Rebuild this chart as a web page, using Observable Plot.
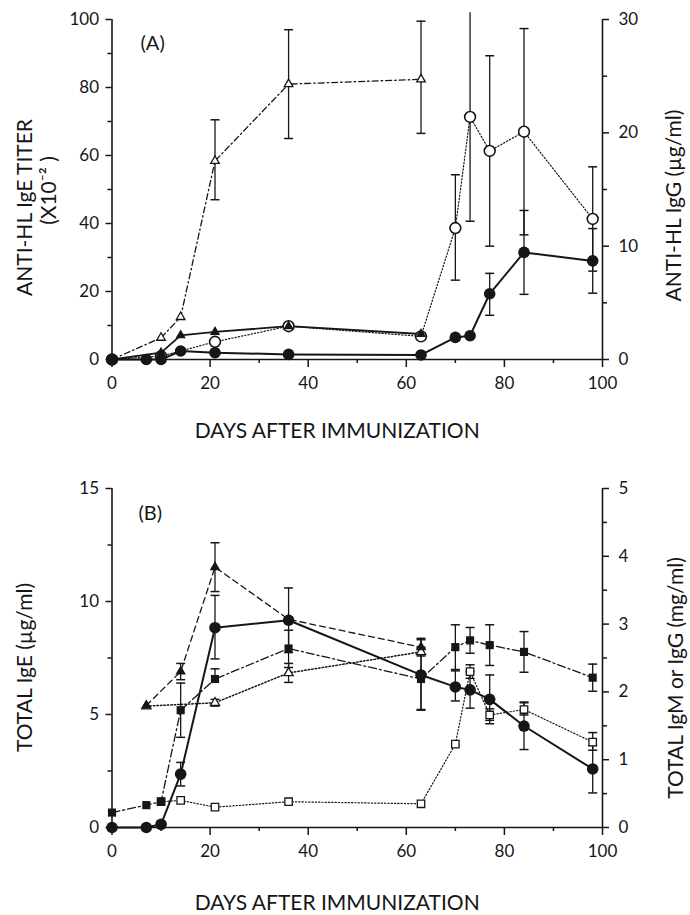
<!DOCTYPE html>
<html><head><meta charset="utf-8">
<script src="https://cdn.jsdelivr.net/npm/d3@7"></script>
<script src="https://cdn.jsdelivr.net/npm/@observablehq/plot@0.6"></script>
<style>
html,body{margin:0;padding:0;background:#fff;}
#chart{width:690px;}
#chart svg{display:block;}
</style></head><body><div id="chart"></div>
<script>
// ---------- Panel A data (days after immunization) ----------
// anti-HL IgE titer (x10^-2), left axis
const daysA_triOpen   = [0, 10, 14, 21, 36, 63];
const titerA_triOpen  = [0, 6.4, 12.5, 58.4, 81, 82.4];
const titerA_triOpenLo = [null, null, null, 47, 65, 66.5];
const titerA_triOpenHi = [null, null, null, 70.5, 97, 99.5];

const daysA_triFilled  = [0, 10, 14, 21, 36, 63];
const titerA_triFilled = [0, 2, 7.1, 8.1, 9.8, 7.5];

// anti-HL IgG (µg/ml), right axis
const daysA_circOpen  = [0, 10, 21, 36, 63, 70, 73, 77, 84, 98];
const iggA_circOpen   = [0, 0.3, 1.56, 2.94, 2.04, 11.6, 21.4, 18.4, 20.1, 12.4];
const iggA_circOpenLo = [null, null, null, null, null, 7.0, 12.2, 10.0, 11.0, 7.8];
const iggA_circOpenHi = [null, null, null, null, null, 16.3, 30.6, 26.8, 29.2, 17.0];

const daysA_circFilled  = [0, 7, 10, 14, 21, 36, 63, 70, 73, 77, 84, 98];
const iggA_circFilled   = [0, 0, 0, 0.75, 0.6, 0.45, 0.4, 1.95, 2.1, 5.8, 9.45, 8.7];
const iggA_circFilledLo = [null, null, null, null, null, null, null, null, null, 3.9, 5.75, 5.85];
const iggA_circFilledHi = [null, null, null, null, null, null, null, null, null, 7.6, 13.15, 11.55];

// ---------- Panel B data ----------
// total IgE (µg/ml), left axis
const daysB_circFilled = [0, 7, 10, 14, 21, 36, 63, 70, 73, 77, 84, 98];
const igeB_circFilled   = [0, 0, 0.14, 2.36, 8.84, 9.17, 6.75, 6.22, 6.09, 5.67, 4.49, 2.59];
const igeB_circFilledLo = [null, null, null, 1.84, 7.46, 7.74, 5.19, 5.6, 5.28, 4.59, 3.45, 1.53];
const igeB_circFilledHi = [null, null, null, 2.88, 10.27, 10.6, 8.31, 6.93, 6.9, 6.75, 5.55, 3.63];

// total IgM or IgG (mg/ml), right axis
const daysB_triFilled = [7, 14, 21, 36, 63];
const igB_triFilled   = [1.80, 2.30, 3.84, 3.07, 2.66];
const igB_triFilledLo = [null, 2.18, 3.48, null, null];
const igB_triFilledHi = [null, 2.42, 4.2, null, 2.79];

const daysB_triOpen = [7, 21, 36, 63];
const igB_triOpen   = [1.79, 1.84, 2.28, 2.59];
const igB_triOpenLo = [null, 1.79, 2.14, 2.53];
const igB_triOpenHi = [null, 1.89, 2.42, 2.66];

const daysB_sqFilled = [0, 7, 10, 14, 21, 36, 63, 70, 73, 77, 84, 98];
const igB_sqFilled   = [0.22, 0.33, 0.38, 1.73, 2.19, 2.64, 2.19, 2.66, 2.76, 2.69, 2.59, 2.21];
const igB_sqFilledLo = [null, null, null, 1.33, null, 2.36, 1.74, 2.33, 2.57, 2.39, 2.29, 2.01];
const igB_sqFilledHi = [null, null, null, 2.13, 2.34, 2.91, 2.64, 2.99, 2.95, 2.99, 2.89, 2.41];

const daysB_sqOpen = [10, 14, 21, 36, 63, 70, 73, 77, 84, 98];
const igB_sqOpen   = [0.38, 0.40, 0.30, 0.38, 0.35, 1.23, 2.30, 1.66, 1.74, 1.26];
const igB_sqOpenLo = [null, null, null, null, null, null, 2.2, 1.58, 1.66, 1.14];
const igB_sqOpenHi = [null, null, null, null, null, null, 2.4, 1.75, 1.84, 1.4];

// ---------- axes / ticks ----------
const xMajor = [0, 20, 40, 60, 80, 100];
const xMinor = [10, 30, 50, 70, 90];
const yA_major = [0, 20, 40, 60, 80, 100];
const yA_minor = [10, 30, 50, 70, 90];
const yA_rightMajor = [0, 10, 20, 30];
const yA_rightMinor = [5, 15, 25];
const yB_major = [0, 5, 10, 15];
const yB_minor = [2.5, 7.5, 12.5];
const yB_rightMajor = [0, 1, 2, 3, 4, 5];
const yB_rightMinor = [0.5, 1.5, 2.5, 3.5, 4.5];

const xTitle = "DAYS AFTER IMMUNIZATION";
const labelsA = ["ANTI-HL IgE TITER", "(X10\u207B\u00B2 )", "ANTI-HL IgG (\u00B5g/ml)", "(A)"];
const labelsB = ["TOTAL IgE (\u00B5g/ml)", "TOTAL IgM or IgG (mg/ml)", "(B)"];

// ---------- helpers ----------
const ink = "#161616";
const font = "Lato, 'Noto Sans', sans-serif";
const capSymbol = {draw(ctx) { ctx.moveTo(-4.5, 0); ctx.lineTo(4.5, 0); }};

function rows(days, vals, lo, hi, k) {
  return days.map((d, i) => ({
    day: d, v: vals[i] * k,
    lo: lo && lo[i] != null ? lo[i] * k : null,
    hi: hi && hi[i] != null ? hi[i] * k : null
  }));
}
function errMarks(data, maxY) {
  const e = data.filter(d => d.lo != null || d.hi != null);
  return [
    Plot.ruleX(e, {x: "day", y1: d => d.lo ?? d.v, y2: d => d.hi ?? d.v, stroke: ink, strokeWidth: 1.3}),
    Plot.dot(e.filter(d => d.lo != null), {x: "day", y: "lo", symbol: capSymbol, r: 1, stroke: ink, strokeWidth: 1.5, fill: "none"}),
    Plot.dot(e.filter(d => d.hi != null && d.hi <= maxY), {x: "day", y: "hi", symbol: capSymbol, r: 1, stroke: ink, strokeWidth: 1.5, fill: "none"})
  ];
}
function axes(leftMajor, leftMinor, rightMajor, rightMinor, k) {
  return [
    Plot.axisX({ticks: xMajor, tickSize: 8, tickPadding: 9, color: ink, strokeWidth: 1.5, label: null}),
    Plot.axisX({ticks: xMinor, tickSize: 4, tickFormat: () => "", color: ink, strokeWidth: 1.5, label: null}),
    Plot.axisY({ticks: leftMajor, tickSize: 6, tickPadding: 7, color: ink, strokeWidth: 1.5, label: null}),
    Plot.axisY({ticks: leftMinor, tickSize: 4, tickFormat: () => "", color: ink, strokeWidth: 1.5, label: null}),
    Plot.axisY({anchor: "right", ticks: rightMajor.map(v => v / k), tickFormat: d => String(Math.round(d * k)), tickSize: 6, tickPadding: 10, color: ink, strokeWidth: 1.5, label: null}),
    Plot.axisY({anchor: "right", ticks: rightMinor.map(v => v / k), tickFormat: () => "", tickSize: 4, color: ink, strokeWidth: 1.5, label: null}),
    Plot.ruleX([0, 100], {stroke: ink, strokeWidth: 1.6}),
    Plot.ruleY([0], {stroke: ink, strokeWidth: 1.6})
  ];
}
function txt(s, o) {
  return Plot.text([s], {text: d => d, fill: ink, fontFamily: font, textAnchor: "middle", lineAnchor: "middle", ...o});
}
const baseStyle = {fontFamily: font, fontSize: "17px", color: ink, background: "#fff", overflow: "visible"};

// ---------- Panel A ----------
const kA = 100 / 30; // right units -> left units
const A_triOpen = rows(daysA_triOpen, titerA_triOpen, titerA_triOpenLo, titerA_triOpenHi, 1);
const A_triFilled = rows(daysA_triFilled, titerA_triFilled, null, null, 1);
const A_circOpen = rows(daysA_circOpen, iggA_circOpen, iggA_circOpenLo, iggA_circOpenHi, kA);
const A_circFilled = rows(daysA_circFilled, iggA_circFilled, iggA_circFilledLo, iggA_circFilledHi, kA);

const plotA = Plot.plot({
  width: 690, height: 460,
  marginTop: 19, marginBottom: 101, marginLeft: 111.5, marginRight: 88,
  x: {domain: [0, 100]}, y: {domain: [0, 100]},
  style: baseStyle,
  marks: [
    ...axes(yA_major, yA_minor, yA_rightMajor, yA_rightMinor, 1 / kA),
    Plot.line(A_triOpen, {x: "day", y: "v", stroke: ink, strokeWidth: 1.3, strokeDasharray: "6,3,1.5,3"}),
    Plot.line(A_circOpen, {x: "day", y: "v", stroke: ink, strokeWidth: 1.2, strokeDasharray: "1.3,2"}),
    Plot.line(A_triFilled, {x: "day", y: "v", stroke: ink, strokeWidth: 1.8}),
    Plot.line(A_circFilled, {x: "day", y: "v", stroke: ink, strokeWidth: 2}),
    ...errMarks(A_triOpen, 100),
    ...errMarks(A_circOpen, 100),
    ...errMarks(A_circFilled, 100),
    Plot.dot(A_triOpen, {x: "day", y: "v", symbol: "triangle", r: 3.2, fill: "#fff", stroke: ink, strokeWidth: 1.3}),
    Plot.dot(A_circOpen, {x: "day", y: "v", symbol: "circle", r: 5.4, fill: "#fff", stroke: ink, strokeWidth: 1.6}),
    Plot.dot(A_triFilled, {x: "day", y: "v", symbol: "triangle", r: 3.8, fill: ink}),
    Plot.dot(A_circFilled, {x: "day", y: "v", symbol: "circle", r: 5.8, fill: ink}),
    txt(labelsA[3], {frameAnchor: "top-left", textAnchor: "start", dx: 28.5, dy: 24.5, fontSize: 20}),
    txt(labelsA[0], {frameAnchor: "left", rotate: -90, dx: -87, dy: 18, fontSize: 21}),
    txt(labelsA[1], {frameAnchor: "left", rotate: -90, dx: -63, dy: 1, fontSize: 21}),
    txt(labelsA[2], {frameAnchor: "right", rotate: -90, dx: 72, dy: 16, fontSize: 21}),
    txt(xTitle, {frameAnchor: "bottom", dx: -20, dy: 72, fontSize: 21})
  ]
});

// ---------- Panel B ----------
const kB = 15 / 5;
const B_circFilled = rows(daysB_circFilled, igeB_circFilled, igeB_circFilledLo, igeB_circFilledHi, 1);
const B_triFilled = rows(daysB_triFilled, igB_triFilled, igB_triFilledLo, igB_triFilledHi, kB);
const B_triOpen = rows(daysB_triOpen, igB_triOpen, igB_triOpenLo, igB_triOpenHi, kB);
const B_sqFilled = rows(daysB_sqFilled, igB_sqFilled, igB_sqFilledLo, igB_sqFilledHi, kB);
const B_sqOpen = rows(daysB_sqOpen, igB_sqOpen, igB_sqOpenLo, igB_sqOpenHi, kB);

const plotB = Plot.plot({
  width: 690, height: 455,
  marginTop: 28, marginBottom: 88, marginLeft: 111.5, marginRight: 88,
  x: {domain: [0, 100]}, y: {domain: [0, 15]},
  style: baseStyle,
  marks: [
    ...axes(yB_major, yB_minor, yB_rightMajor, yB_rightMinor, 1 / kB),
    Plot.line(B_sqOpen, {x: "day", y: "v", stroke: ink, strokeWidth: 1.2, strokeDasharray: "1.3,2"}),
    Plot.line(B_triOpen, {x: "day", y: "v", stroke: ink, strokeWidth: 1.5, strokeDasharray: "1.5,2"}),
    Plot.line(B_triFilled, {x: "day", y: "v", stroke: ink, strokeWidth: 1.3, strokeDasharray: "6,4"}),
    Plot.line(B_sqFilled, {x: "day", y: "v", stroke: ink, strokeWidth: 1.3, strokeDasharray: "8,3,2,3"}),
    Plot.line(B_circFilled, {x: "day", y: "v", stroke: ink, strokeWidth: 2}),
    ...errMarks(B_sqOpen, 15),
    ...errMarks(B_triOpen, 15),
    ...errMarks(B_triFilled, 15),
    ...errMarks(B_sqFilled, 15),
    ...errMarks(B_circFilled, 15),
    Plot.dot(B_sqOpen, {x: "day", y: "v", symbol: "square", r: 4.2, fill: "#fff", stroke: ink, strokeWidth: 1.3}),
    Plot.dot(B_triOpen, {x: "day", y: "v", symbol: "triangle", r: 3.4, fill: "#fff", stroke: ink, strokeWidth: 1.3}),
    Plot.dot(B_triFilled, {x: "day", y: "v", symbol: "triangle", r: 3.9, fill: ink}),
    Plot.dot(B_sqFilled, {x: "day", y: "v", symbol: "square", r: 4.6, fill: ink}),
    Plot.dot(B_circFilled, {x: "day", y: "v", symbol: "circle", r: 5.8, fill: ink}),
    txt(labelsB[2], {frameAnchor: "top-left", textAnchor: "start", dx: 26.5, dy: 25, fontSize: 20}),
    txt(labelsB[0], {frameAnchor: "left", rotate: -90, dx: -87, dy: 9.5, fontSize: 21}),
    txt(labelsB[1], {frameAnchor: "right", rotate: -90, dx: 74, dy: 20, fontSize: 21}),
    txt(xTitle, {frameAnchor: "bottom", dx: -20, dy: 76, fontSize: 21})
  ]
});

const chart = document.getElementById("chart");
chart.append(plotA, plotB);
</script>
</body></html>
